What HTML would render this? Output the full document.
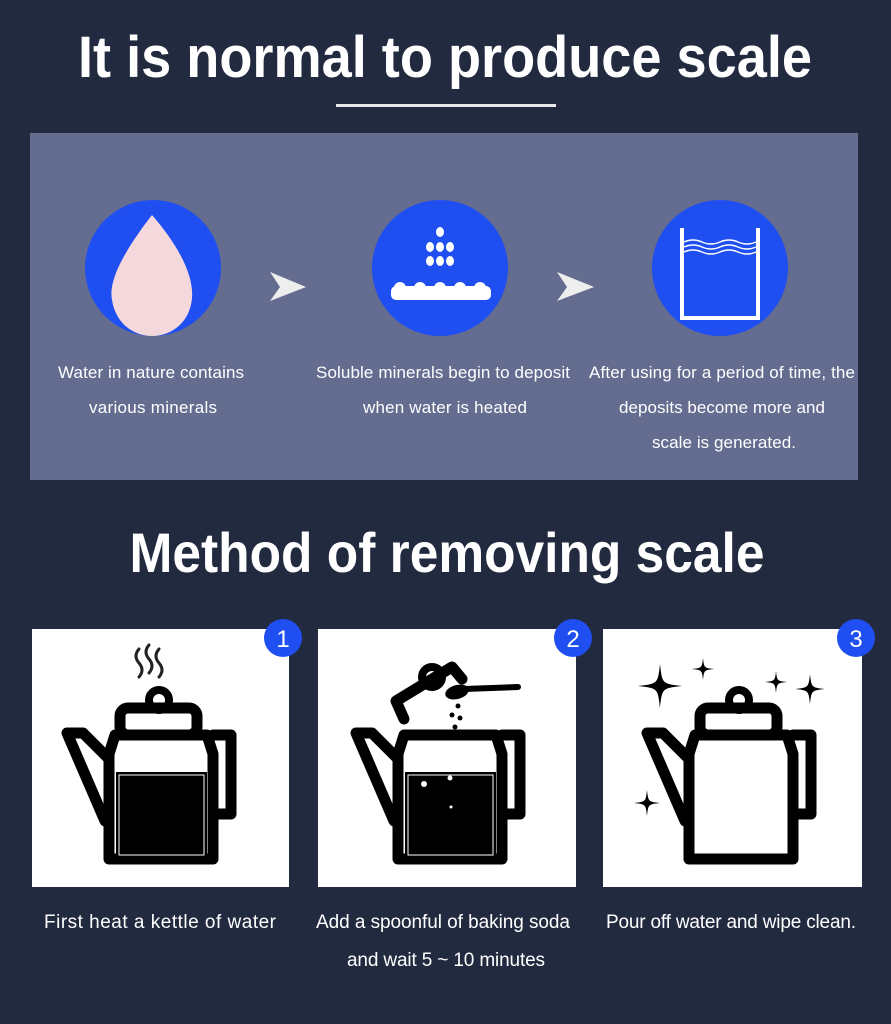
<!DOCTYPE html>
<html><head><meta charset="utf-8"><style>
html,body{margin:0;padding:0;background:#222a40;}
svg{display:block;}
text{font-family:"Liberation Sans",sans-serif;fill:#fff;}
</style></head><body>
<svg width="891" height="1024" viewBox="0 0 891 1024" xmlns="http://www.w3.org/2000/svg">
<defs>
<g id="kettle" fill="none" stroke="#000" stroke-width="11" stroke-linejoin="round" stroke-linecap="round">
  <rect x="97" y="79" width="77" height="27" rx="8"/>
  <path d="M86,230 V125 L92,106 H184 L190,125 V230 Z"/>
  <path d="M190,106 H208 V185 H190"/>
  <path d="M86,130 L60,104 H44 L82,192"/>
  <circle cx="136" cy="71" r="10" stroke-width="8"/>
</g>
<path id="star" d="M0,-1 C0.1,-0.1 0.1,-0.1 1,0 C0.1,0.1 0.1,0.1 0,1 C-0.1,0.1 -0.1,0.1 -1,0 C-0.1,-0.1 -0.1,-0.1 0,-1Z" fill="#000"/>
</defs>
<rect width="891" height="1024" fill="#222a40"/>
<text x="445" y="77" font-size="58" font-weight="bold" text-anchor="middle" textLength="734" lengthAdjust="spacingAndGlyphs">It is normal to produce scale</text>
<rect x="336" y="104" width="220" height="3" fill="#e8e8ee"/>
<rect x="30" y="133" width="828" height="347" fill="#646d90"/>
<circle cx="153" cy="268" r="68" fill="#1f4ff0"/>
<path d="M152,215 C125,250 108,280 112,300 C116,325 135,336 152,336 C172,336 190,322 192,298 C194,275 178,245 152,215Z" fill="#f5d8db"/>
<circle cx="440" cy="268" r="68" fill="#1f4ff0"/>
<g fill="#fff">
<ellipse cx="440" cy="232" rx="4" ry="5"/>
<ellipse cx="430" cy="247" rx="4" ry="5"/><ellipse cx="440" cy="247" rx="4" ry="5"/><ellipse cx="450" cy="247" rx="4" ry="5"/>
<ellipse cx="430" cy="261" rx="4" ry="5"/><ellipse cx="440" cy="261" rx="4" ry="5"/><ellipse cx="450" cy="261" rx="4" ry="5"/>
<rect x="391" y="286" width="100" height="14" rx="5"/>
<circle cx="400" cy="288" r="6"/><circle cx="420" cy="288" r="6"/><circle cx="440" cy="288" r="6"/><circle cx="460" cy="288" r="6"/><circle cx="480" cy="288" r="6"/>
</g>
<circle cx="720" cy="268" r="68" fill="#1f4ff0"/>
<g fill="none" stroke="#fff">
<path d="M682,228 V318 H758 V228" stroke-width="4"/>
<path d="M684,242 q9,-4 18,0 t18,0 t18,0 t18,0 M684,247 q9,-4 18,0 t18,0 t18,0 t18,0 M684,252 q9,-4 18,0 t18,0 t18,0 t18,0" stroke-width="1.5"/>
</g>
<path d="M270,272 L306,287 L270,301 L280,287Z" fill="#eee"/>
<path d="M557,272 L594,287 L557,301 L567,287Z" fill="#eee"/>
<g font-size="17" text-anchor="middle" lengthAdjust="spacingAndGlyphs">
<text x="151" y="378" textLength="186">Water in nature contains</text>
<text x="153" y="413" textLength="128">various minerals</text>
<text x="443" y="378" textLength="254">Soluble minerals begin to deposit</text>
<text x="445" y="413" textLength="164">when water is heated</text>
<text x="722" y="378" textLength="266">After using for a period of time, the</text>
<text x="722" y="413" textLength="206">deposits become more and</text>
<text x="724" y="448" textLength="144">scale is generated.</text>
</g>
<text x="447" y="572" font-size="56" font-weight="bold" text-anchor="middle" textLength="635" lengthAdjust="spacingAndGlyphs">Method of removing scale</text>
<rect x="32" y="629" width="257" height="258" fill="#fff"/>
<rect x="318" y="629" width="258" height="258" fill="#fff"/>
<rect x="603" y="629" width="259" height="258" fill="#fff"/>
<g transform="translate(23,629)">
  <use href="#kettle"/>
  <rect x="93" y="143" width="91" height="85" fill="#000"/>
  <rect x="96" y="146" width="85" height="80" fill="none" stroke="#fff" stroke-width="1"/>
  <g fill="none" stroke="#222" stroke-width="3" stroke-linecap="round">
  <path d="M116,20 q-6,7 0,14 t0,14 M126,16 q-6,7 0,14 t0,14 M136,20 q-6,7 0,14 t0,14"/>
  </g>
</g>
<g transform="translate(312,629)">
  <g fill="none" stroke="#000" stroke-width="11" stroke-linejoin="round" stroke-linecap="round">
    <path d="M86,230 V125 L92,106 H184 L190,125 V230 Z"/>
    <path d="M190,106 H208 V185 H190"/>
    <path d="M86,130 L60,104 H44 L82,192"/>
    <path d="M92,90 L84,72 L140,38 L150,50"/>
    <circle cx="120" cy="48" r="10" stroke-width="8"/>
  </g>
  <ellipse cx="145" cy="63" rx="12" ry="7" fill="#000" transform="rotate(-15 145 63)"/>
  <path d="M152,60 L206,58" stroke="#000" stroke-width="6" stroke-linecap="round"/>
  <g fill="#000"><circle cx="146" cy="77" r="2.5"/><circle cx="140" cy="86" r="2.5"/><circle cx="148" cy="89" r="2.5"/><circle cx="143" cy="98" r="2.5"/></g>
  <rect x="93" y="143" width="91" height="85" fill="#000"/>
  <rect x="96" y="146" width="85" height="80" fill="none" stroke="#fff" stroke-width="1"/>
  <g fill="#fff"><circle cx="112" cy="155" r="3"/><circle cx="138" cy="149" r="2.5"/><circle cx="139" cy="178" r="1.5"/></g>
</g>
<g transform="translate(603,629)">
  <use href="#kettle"/>
  <use href="#star" transform="translate(57,57) scale(22)"/>
  <use href="#star" transform="translate(100,40) scale(11)"/>
  <use href="#star" transform="translate(173,53) scale(11)"/>
  <use href="#star" transform="translate(207,60) scale(15)"/>
  <use href="#star" transform="translate(44,174) scale(13)"/>
</g>
<g font-size="24" text-anchor="middle">
<circle cx="283" cy="638" r="19" fill="#1f4ff0"/><text x="283" y="647">1</text>
<circle cx="573" cy="638" r="19" fill="#1f4ff0"/><text x="573" y="647">2</text>
<circle cx="856" cy="638" r="19" fill="#1f4ff0"/><text x="856" y="647">3</text>
</g>
<g font-size="19" text-anchor="middle" lengthAdjust="spacingAndGlyphs">
<text x="160" y="928" textLength="232">First heat a kettle of water</text>
<text x="443" y="928" textLength="254">Add a spoonful of baking soda</text>
<text x="446" y="966" textLength="198">and wait 5 ~ 10 minutes</text>
<text x="731" y="928" textLength="250">Pour off water and wipe clean.</text>
</g>
</svg>
</body></html>
